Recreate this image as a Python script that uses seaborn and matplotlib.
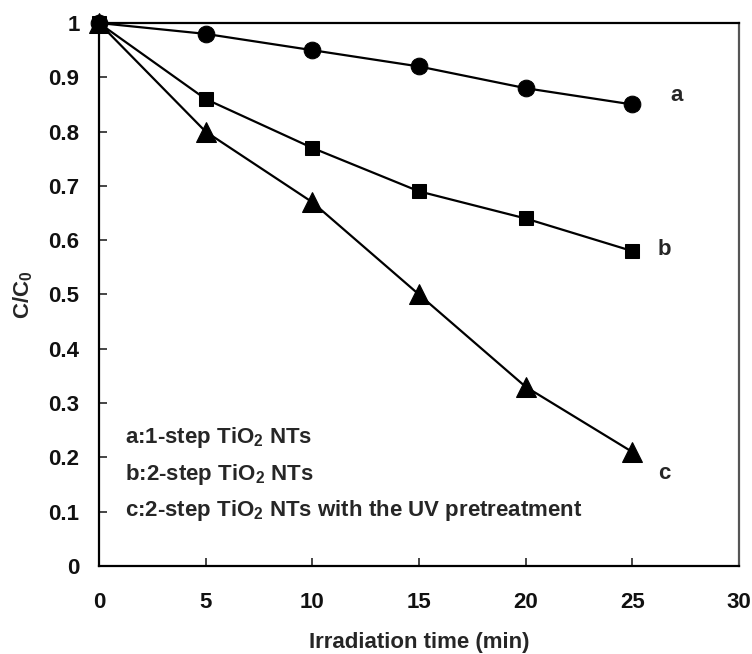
import matplotlib

matplotlib.use("Agg")
import matplotlib.pyplot as plt
import numpy as np
import pandas as pd
import seaborn as sns

time_min = [0, 5, 10, 15, 20, 25]
ratio_a = [1.00, 0.98, 0.95, 0.92, 0.88, 0.85]
ratio_b = [1.00, 0.86, 0.77, 0.69, 0.64, 0.58]
ratio_c = [1.00, 0.80, 0.67, 0.50, 0.33, 0.21]
series_names = ["a", "b", "c"]
legend_lines = [
    "a:1-step TiO$_2$ NTs",
    "b:2-step TiO$_2$ NTs",
    "c:2-step TiO$_2$ NTs with the UV pretreatment",
]

sns.set_style("ticks")
plt.rcParams["font.family"] = ["Liberation Sans", "DejaVu Sans"]
plt.rcParams["font.weight"] = "bold"
plt.rcParams["mathtext.fontset"] = "custom"
plt.rcParams["mathtext.rm"] = "Liberation Sans:bold"
plt.rcParams["mathtext.it"] = "Liberation Sans:bold"
plt.rcParams["mathtext.bf"] = "Liberation Sans:bold"

df = pd.DataFrame({
    "time": time_min * 3,
    "ratio": ratio_a + ratio_b + ratio_c,
    "series": np.repeat(series_names, len(time_min)),
})

fig = plt.figure(figsize=(7.52, 6.54), dpi=100)
ax = fig.add_axes([0.1316, 0.1346, 0.8511, 0.8302])

styles = {"a": ("o", 12), "b": ("s", 9.5), "c": ("^", 15)}
for name in series_names:
    sub = df[df["series"] == name]
    marker, ms = styles[name]
    sns.lineplot(data=sub, x="time", y="ratio", ax=ax, color="black",
                 linewidth=1.6, marker=marker, markersize=ms,
                 markeredgecolor="black", markerfacecolor="black",
                 clip_on=False, zorder=3)

ax.set_xlim(0, 30)
ax.set_ylim(0, 1)
ax.set_xticks(np.arange(0, 31, 5))
ax.set_yticks(np.arange(0, 1.01, 0.1))
ax.set_yticklabels(["0", "0.1", "0.2", "0.3", "0.4", "0.5", "0.6", "0.7", "0.8", "0.9", "1"])
ax.tick_params(direction="in", length=6, width=1.2, labelsize=16)
ax.tick_params(axis="x", pad=19)
ax.tick_params(axis="y", pad=14)
for lab in ax.get_xticklabels() + ax.get_yticklabels():
    lab.set_fontweight("bold")
    lab.set_color("#111111")
for side in ["left", "bottom", "top"]:
    ax.spines[side].set_linewidth(1.6)
    ax.spines[side].set_color("black")
ax.spines["right"].set_linewidth(1.6)
ax.spines["right"].set_color("#555555")

ax.set_xlabel("Irradiation time (min)", fontsize=16, fontweight="bold", va="center")
ax.set_ylabel("C/C$_0$", fontsize=16, fontweight="bold", va="center")
ax.xaxis.set_label_coords(0.5, -0.141)
ax.yaxis.set_label_coords(-0.119, 0.5)

ax.text(26.8, 0.866, "a", fontsize=16, fontweight="bold", va="center")
ax.text(26.2, 0.582, "b", fontsize=16, fontweight="bold", va="center")
ax.text(26.2, 0.171, "c", fontsize=16, fontweight="bold", va="center")

for txt, y in zip(legend_lines, [0.236, 0.168, 0.103]):
    ax.text(1.2, y, txt, fontsize=16, fontweight="bold", va="center")

fig.savefig("out.png", dpi=100)
